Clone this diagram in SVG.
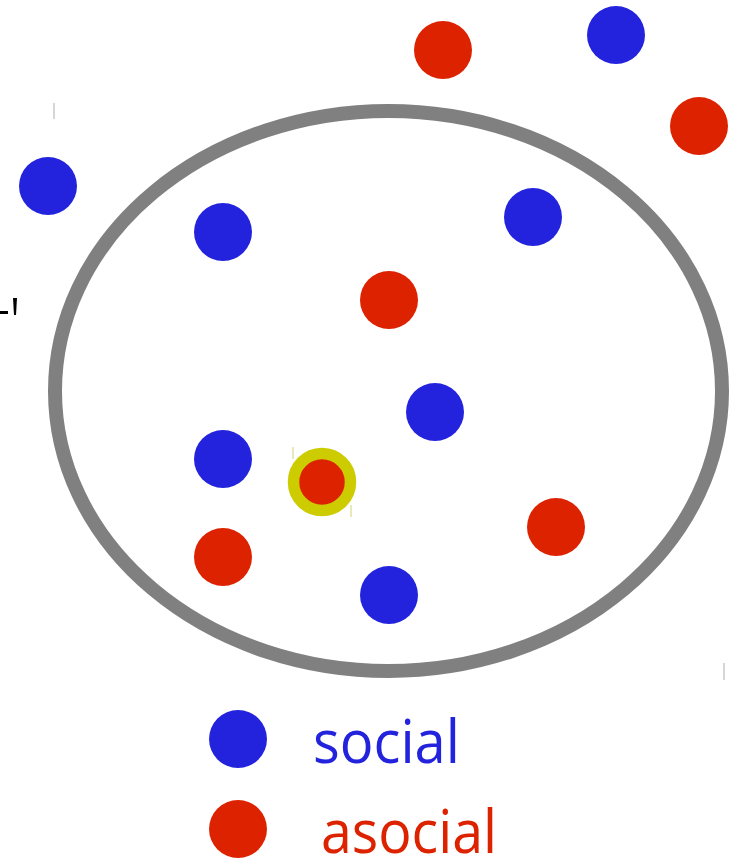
<svg xmlns="http://www.w3.org/2000/svg" width="734" height="859" viewBox="0 0 734 859">
<style>
.s{fill:#2323dd}
.a{fill:#dd2200}
.tick{stroke:#c8c8c8;stroke-width:1.5}
.lbl{font-family:"Open Sans","DejaVu Sans",sans-serif;font-size:60px}
</style>
<rect width="734" height="859" fill="#fff"/>
<g id="group-ellipse"><ellipse cx="388.5" cy="391" rx="333.5" ry="280" fill="none" stroke="#808080" stroke-width="14"/></g>
<g id="marks">
<line class="tick" x1="54" y1="103" x2="54" y2="119"/>
<line class="tick" x1="724" y1="663" x2="724" y2="680"/>
<line x1="293" y1="447" x2="293" y2="459" stroke="#e0e0a0" stroke-width="1.5"/>
<line x1="351" y1="505" x2="351" y2="517" stroke="#e0e0a0" stroke-width="1.5"/>
<rect x="0" y="311" width="8" height="3" fill="#000"/>
<polygon points="13,298 17,298 16,315 14,315" fill="#000"/>
</g>
<g id="nodes">
<circle id="n1" class="a" cx="443" cy="50" r="29"/>
<circle id="n2" class="s" cx="616" cy="35" r="29"/>
<circle id="n3" class="a" cx="699" cy="126" r="29"/>
<circle id="n4" class="s" cx="48" cy="186" r="29"/>
<circle id="n5" class="s" cx="223" cy="232" r="29"/>
<circle id="n6" class="s" cx="533" cy="217" r="29"/>
<circle id="n7" class="a" cx="389" cy="300" r="29"/>
<circle id="n8" class="s" cx="435" cy="412" r="29"/>
<circle id="n9" class="s" cx="223" cy="459" r="29"/>
<circle id="n10" class="a" cx="322" cy="482" r="28.5" stroke="#cccc00" stroke-width="11.5"/>
<circle id="n11" class="a" cx="556" cy="527" r="29"/>
<circle id="n12" class="a" cx="223" cy="557" r="29"/>
<circle id="n13" class="s" cx="389" cy="595" r="29"/>
</g>
<g id="legend">
<circle class="s" cx="238" cy="739" r="29"/>
<circle class="a" cx="238" cy="829" r="29"/>
<text class="lbl" x="313" y="763" fill="#2323dd" textLength="147" lengthAdjust="spacingAndGlyphs">social</text>
<text class="lbl" x="321" y="853" fill="#dd2200" textLength="176" lengthAdjust="spacingAndGlyphs">asocial</text>
</g>
<g id="connectors"/>
</svg>
